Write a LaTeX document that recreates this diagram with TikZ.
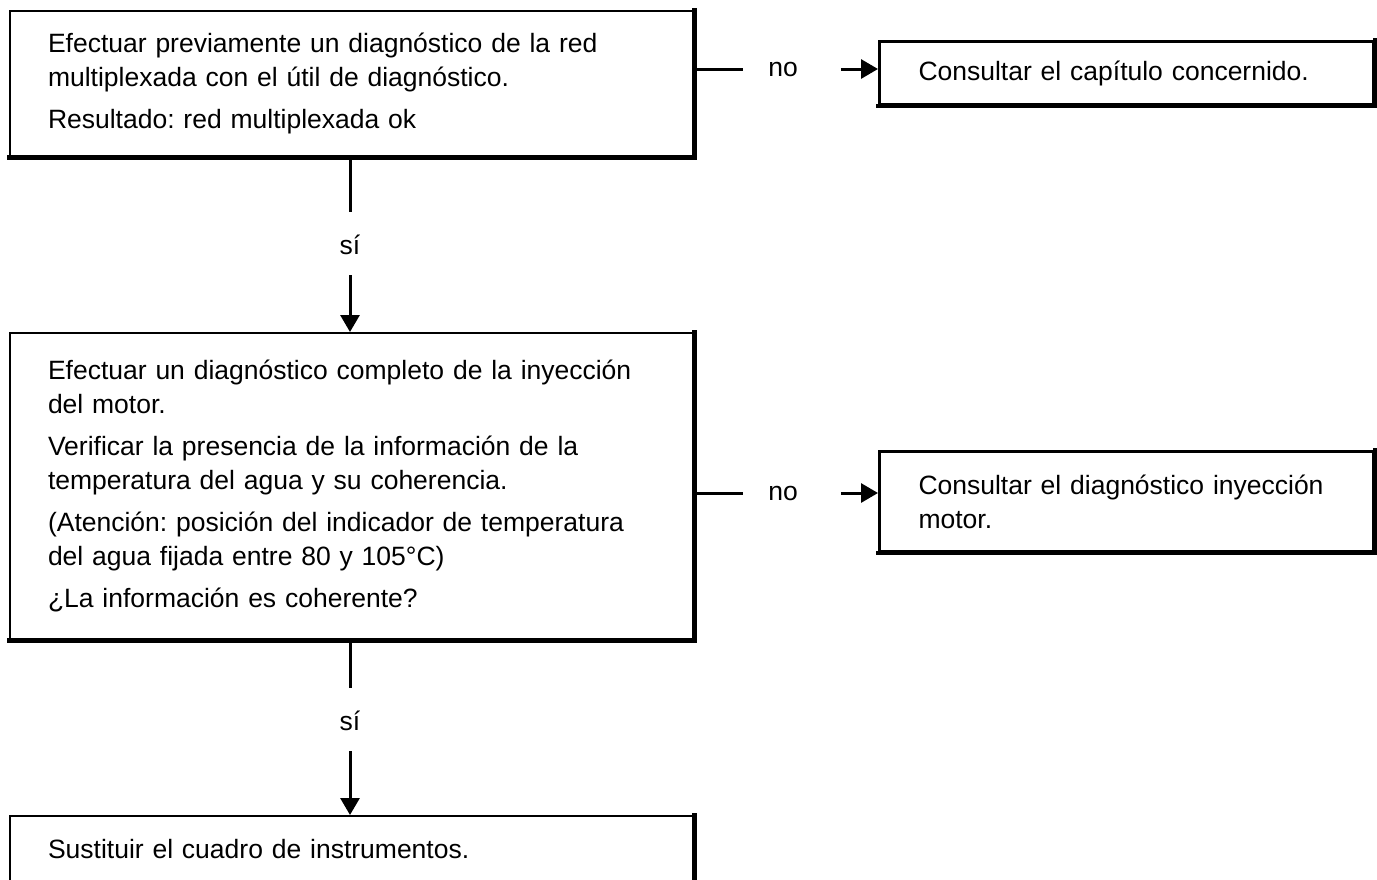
\documentclass[tikz,border=0pt]{standalone}
\usepackage{fontspec}
\setmainfont{Liberation Sans}
\usetikzlibrary{arrows.meta}
\frenchspacing
\begin{document}
\begin{tikzpicture}[x=1pt,y=-1pt,
  txt/.style={font=\fontsize{26.5}{34}\selectfont\frenchspacing},
  box/.style={txt, draw, line width=2pt, anchor=north west, inner xsep=38pt, inner ysep=0pt, align=left},
  rbox/.style={box, line width=3pt, inner xsep=39pt},
  thick edge/.style={line width=5pt, line cap=rect},
  lbl/.style={txt, inner sep=0pt},
  conn/.style={line width=3pt},
  arr/.style={line width=3pt, -{Triangle[length=17pt,width=19pt]}},
]
\useasboundingbox (0,0) rectangle (1377,879);
\clip (0,0) rectangle (1377,879);

% boxes
\node[box, text width=607pt, minimum height=145pt] (b1) at (9,10)
  {Efectuar previamente un diagnóstico de la red\\
   multiplexada con el útil de diagnóstico.\\[8pt]
   Resultado: red multiplexada ok};
\node[rbox, text width=416pt, minimum height=63pt] (b2) at (878,40)
  {Consultar el capítulo concernido.};
\node[box, text width=607pt, minimum height=306pt] (b3) at (9,332)
  {Efectuar un diagnóstico completo de la inyección\\
   del motor.\\[8pt]
   Verificar la presencia de la información de la\\
   temperatura del agua y su coherencia.\\[8pt]
   (Atención: posición del indicador de temperatura\\
   del agua fijada entre 80 y 105°C)\\[8pt]
   ¿La información es coherente?};
\node[rbox, text width=416pt, minimum height=100pt] (b4) at (878,450)
  {Consultar el diagnóstico inyección\\ motor.};
\node[box, text width=607pt, minimum height=66pt] (b5) at (9,815)
  {Sustituir el cuadro de instrumentos.};

% thick right and bottom edges
\foreach \b in {b1,b3,b5} {
  \draw[thick edge] (\b.north east) -- (\b.south east) -- (\b.south west);
}
\foreach \b in {b2,b4} {
  \draw[line width=4pt, line cap=rect] (\b.north east) -- (\b.south east) -- (\b.south west);
}

% labels
\node[lbl] (n1) at (783,69) {no};
\node[lbl] (n2) at (783,493) {no};
\node[lbl] (s1) at (350,245) {sí};
\node[lbl] (s2) at (350,721) {sí};

% connectors
\draw[conn] (b1.east |- n1) -- ([xshift=-25pt]n1.west);
\draw[arr] ([xshift=43pt]n1.east) -- (b2.west |- n1);
\draw[conn] (b3.east |- n2) -- ([xshift=-25pt]n2.west);
\draw[arr] ([xshift=43pt]n2.east) -- (b4.west |- n2);

\draw[conn] (b1.south -| s1) -- ([yshift=23pt]s1.north);
\draw[arr] ([yshift=-20pt]s1.south) -- (b3.north -| s1);
\draw[conn] (b3.south -| s2) -- ([yshift=23pt]s2.north);
\draw[arr] ([yshift=-20pt]s2.south) -- (b5.north -| s2);
\end{tikzpicture}
\end{document}
